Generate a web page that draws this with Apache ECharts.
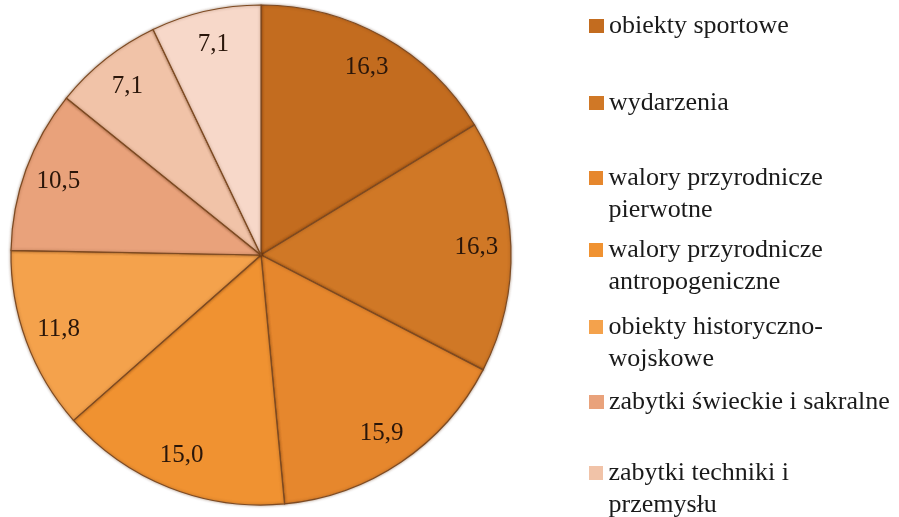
<!DOCTYPE html>
<html>
<head>
<meta charset="utf-8">
<script src="https://cdn.jsdelivr.net/npm/echarts@6/dist/echarts.min.js"></script>
<style>
  html, body { margin: 0; padding: 0; background: #fff; }
  #chart { width: 899px; height: 517px; }
</style>
</head>
<body>
<div id="chart"></div>
<script>
// dane (%)
const categories = [
  'obiekty sportowe',
  'wydarzenia',
  'walory przyrodnicze pierwotne',
  'walory przyrodnicze antropogeniczne',
  'obiekty historyczno-wojskowe',
  'zabytki świeckie i sakralne',
  'zabytki techniki i przemysłu',
  'inne'
]
const values = [16.3, 16.3, 15.9, 15.0, 11.8, 10.5, 7.1, 7.1]
// legenda pokazuje tylko 7 pozycji, tekst łamany jak w oryginale
const legendNames = categories.slice(0, 7)
const legendText = {
  'walory przyrodnicze pierwotne': 'walory przyrodnicze\npierwotne',
  'walory przyrodnicze antropogeniczne': 'walory przyrodnicze\nantropogeniczne',
  'obiekty historyczno-wojskowe': 'obiekty historyczno-\nwojskowe',
  'zabytki techniki i przemysłu': 'zabytki techniki i\nprzemysłu'
}

const colors = ['#c36c1f', '#d07826', '#e6872d', '#f09231', '#f4a24c', '#e9a27b', '#f1c3a8', '#f7d8c9']
const legendTops = [10, 87, 162, 234, 311, 386, 457]

const chart = echarts.init(document.getElementById('chart'))

const pieData = categories.map((name, i) => ({
  name,
  value: values[i],
  itemStyle: { color: colors[i] }
}))

// kwadrat przy pierwszej linii dla pozycji dwuwierszowych
const squareTop = 'path://M0,0L14,0M0,9L14,9L14,23L0,23ZM0,64L14,64'

const legends = legendNames.map((name, i) => {
  const twoLines = !!legendText[name]
  return {
    data: [name],
    left: 589,
    top: legendTops[i],
    padding: 0,
    selectedMode: false,
    itemWidth: 15,
    itemHeight: twoLines ? 64 : 14,
    icon: twoLines ? squareTop : 'rect',
    itemStyle: { borderWidth: 0, shadowBlur: 0 },
    formatter: n => legendText[n] || n,
    textStyle: {
      fontFamily: 'Liberation Serif',
      fontSize: 26,
      lineHeight: 32,
      color: '#1a1a1a'
    }
  }
})

chart.setOption({
  backgroundColor: '#ffffff',
  animation: false,
  legend: legends,
  series: [
    {
      type: 'pie',
      center: [261, 255],
      radius: [0, 250],
      startAngle: 90,
      clockwise: true,
      silent: true,
      data: pieData,
      label: { show: false },
      labelLine: { show: false },
      itemStyle: {
        borderColor: '#7d4a22',
        borderWidth: 1.2,
        shadowBlur: 3,
        shadowColor: 'rgba(90,45,10,0.45)'
      }
    },
    {
      // przezroczysty pierścień tylko do umieszczenia etykiet blisko krawędzi
      type: 'pie',
      center: [261, 255],
      radius: [175, 250],
      startAngle: 90,
      clockwise: true,
      silent: true,
      data: categories.map((name, i) => ({ name, value: values[i] })),
      itemStyle: { color: 'rgba(0,0,0,0)', borderWidth: 0 },
      labelLine: { show: false },
      label: {
        show: true,
        position: 'inside',
        formatter: p => p.value.toFixed(1).replace('.', ','),
        fontFamily: 'Liberation Serif',
        fontSize: 25,
        color: '#2a160a'
      }
    }
  ]
})
</script>
</body>
</html>
